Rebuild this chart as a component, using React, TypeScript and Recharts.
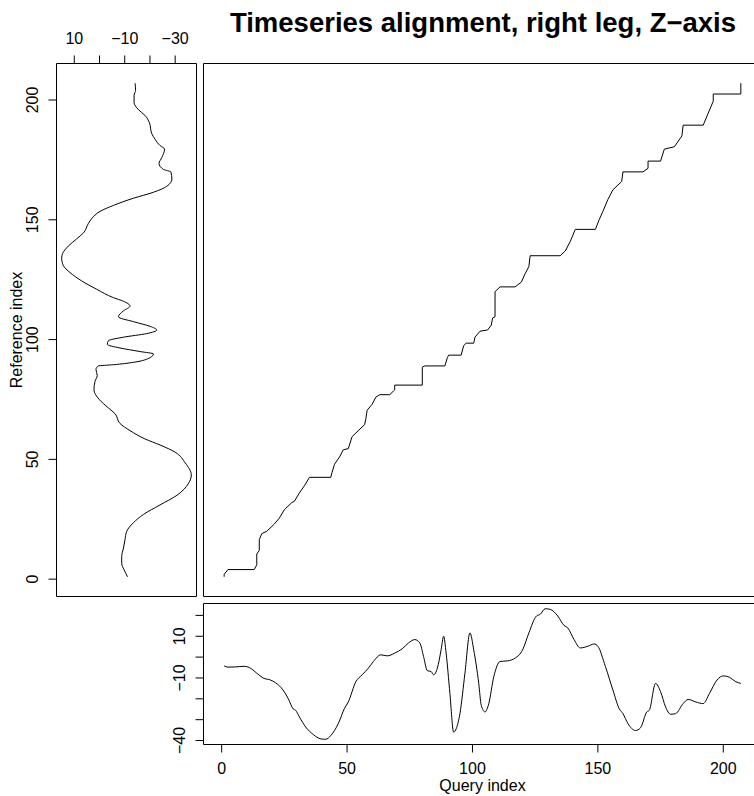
import React from "react";
import { ScatterChart, Scatter, LineChart, Line, XAxis, YAxis, ReferenceArea } from "recharts";

// reference series (left panel): index along the vertical, value along the horizontal
const refIndex = [
  207, 204, 202, 199, 196, 193.5, 190.5, 186, 183.5, 181,
  179.5, 176, 173.5, 171, 170, 167, 164, 161.5, 159, 156,
  153.5, 150.5, 148.5, 144.5, 142, 139, 136, 134, 131, 128,
  124.5, 121, 117.5, 116, 114, 112, 109.5, 107.5, 105.5, 104,
  102.5, 101, 99.5, 98, 96.5, 95, 94, 92.5, 90.5, 89.5,
  89, 87.5, 85, 82.5, 79, 75, 71.5, 69, 65, 62,
  58.5, 56, 53, 48.5, 43.5, 40, 35, 31, 27, 23.5,
  20, 16.5, 13, 9.5, 6.5, 4, 1,
];
const refValue = [
  -14.1, -14.3, -13.7, -13.7, -15.4, -18.1, -19.8, -20.7, -22.1, -24.0,
  -25.8, -24.7, -23.6, -25.4, -28.3, -28.7, -26.7, -21.4, -13.4, -5.5,
  -0.2, 3.1, 4.4, 6.4, 9.1, 12.4, 14.6, 15.0, 14.4, 11.7,
  7.1, 1.1, -5.5, -9.5, -12.1, -9.5, -7.5, -13.4, -20.1, -22.7,
  -18.7, -9.5, -3.5, -3.1, -8.1, -16.1, -21.4, -20.1, -13.4, -5.5,
  0.5, 1.4, 0.9, 1.8, 2.2, 0.1, -3.5, -6.2, -8.1, -12.1,
  -18.1, -24.0, -30.0, -34.0, -36.4, -35.3, -30.7, -24.0, -17.4, -13.4,
  -10.8, -10.1, -9.5, -8.8, -8.8, -9.7, -11.1,
];

// query series (bottom panel)
const queryIndex = [
  1, 2.5, 5.5, 9, 11, 14, 16.5, 19.5, 21.5, 24.5,
  26.5, 28.5, 29.5, 31, 33.5, 36.5, 39.5, 41.5, 43.5, 46.5,
  49, 50.5, 53.5, 56, 58.5, 60.5, 63.5, 66, 69, 72,
  74.5, 77, 79, 80.5, 82, 83.5, 84.5, 86, 87.5, 88.5,
  89.5, 91, 92.5, 93.5, 95, 97, 99, 100.5, 102.5, 103.5,
  105, 106.5, 108.5, 111, 114, 117, 120, 122.5, 125.5, 127,
  129, 131, 134, 136.5, 138, 140.5, 143, 146, 148.5, 150,
  153, 156, 158.5, 160, 162, 165, 167, 169.5, 170.5, 173,
  175, 177, 179, 181, 184, 186, 189, 192, 194.5, 197.5,
  200, 202.5, 205, 207,
];
const queryValue = [
  -4.2, -4.8, -4.7, -4.4, -5.0, -7.7, -10.0, -11.0, -12.3, -15.8,
  -19.8, -24.8, -25.5, -28.7, -33.5, -37.1, -39.2, -39.4, -37.6, -31.9,
  -24.5, -21.5, -11.8, -8.5, -5.3, -2.1, 1.1, 0.6, 1.9, 4.0,
  6.8, 8.4, 6.8, 0.3, -6.5, -6.9, -8.5, -5.3, 3.5, 10.0,
  1.9, -17.4, -36.0, -34.4, -27.1, -7.7, 11.6, 3.5, -12.6, -23.1,
  -26.3, -22.3, -9.4, -2.1, -1.8, -0.5, 3.5, 11.6, 19.7, 20.5,
  23.2, 22.9, 19.7, 15.2, 14.0, 8.4, 4.4, 5.2, 6.3, 5.2,
  -4.5, -15.8, -24.7, -27.1, -31.9, -35.2, -33.9, -26.3, -25.5, -12.6,
  -16.6, -23.9, -27.4, -27.1, -22.3, -20.3, -21.5, -22.3, -17.4, -11.0,
  -9.0, -9.7, -11.8, -12.6,
];

// warping path corners (query index, reference index)
const pathQuery = [
  1, 1, 2.5, 13, 14, 14, 15, 15, 16, 18,
  21, 23, 25, 28, 29, 31, 33, 35, 43.5, 44,
  45, 47, 48.5, 50.5, 52, 57, 57.5, 58, 60, 61.5,
  63, 67, 69, 69, 80, 80, 81, 89, 90, 90.5,
  95.5, 96.5, 97.5, 100.5, 101, 103, 106, 107.5, 108, 109,
  109, 111, 117, 119.5, 121, 122.5, 123, 135, 137, 139,
  141, 149, 150.5, 152, 154, 156, 159.5, 160, 168, 170,
  170, 175, 176.5, 180.5, 183.5, 184, 192, 194, 196, 196,
  207, 207,
];
const pathReference = [
  1, 2, 4, 4, 6, 10.5, 12, 16.5, 19, 20,
  23, 25.5, 29, 32, 32.5, 36, 39, 42.5, 42.5, 44.5,
  48, 51, 54, 54.5, 59.5, 64.5, 67, 70.5, 73, 76,
  77, 77, 79, 81, 81, 88.5, 89, 89, 92.5, 93.5,
  93.5, 97.5, 98.5, 98.5, 101, 103.5, 104, 106, 109, 109.5,
  120, 122, 122, 124, 127.5, 130.5, 135, 135, 137, 141,
  146, 146, 150, 153.5, 158.5, 162.5, 166, 170, 170, 171.5,
  174.5, 174.5, 179.5, 180.5, 185, 189.5, 189.5, 194.5, 199.5, 202.5,
  202.5, 207,
];

const indexTicks = [0, 50, 100, 150, 200];
const refValueTicks = [10, 0, -10, -20, -30];
const refValueLabels = [10, -10, -30];
const queryValueTicks = [20, 10, 0, -10, -20, -30, -40];
const queryValueLabels = [10, -10, -40];

const TITLE = "Timeseries alignment, right leg, Z\u2212axis";
const FONT = '"Liberation Sans", Arial, Helvetica, sans-serif';

const refData = refIndex.map((r, i) => ({ v: refValue[i], r })).reverse();
const queryData = queryIndex.map((q, i) => ({ q, v: queryValue[i] }));
const pathData = pathQuery.map((q, i) => ({ q, r: pathReference[i] }));

// R-style 4% padding around the data range
const pad = (arr: number[]): [number, number] => {
  const lo = Math.min(...arr);
  const hi = Math.max(...arr);
  const d = (hi - lo) * 0.04;
  return [lo - d, hi + d];
};
const idxDomain = pad([1, 207]);
const refDomain = pad(refValue);
const queryDomain = pad(queryValue);

const fmt = (v: number) => (v < 0 ? "\u2212" + Math.abs(v) : String(v));

const flatTick = (labels: number[]) => (props: any) => {
  const { x, y, payload } = props;
  if (!labels.includes(payload.value)) return <g />;
  return (
    <text x={x} y={y} textAnchor="middle" fontSize={16} fontFamily={FONT} fill="#000">
      {fmt(payload.value)}
    </text>
  );
};

const sideTick = (labels: number[]) => (props: any) => {
  const { x, y, payload } = props;
  if (!labels.includes(payload.value)) return <g />;
  return (
    <text x={x} y={y} transform={`rotate(-90, ${x}, ${y})`} textAnchor="middle" fontSize={16} fontFamily={FONT} fill="#000">
      {fmt(payload.value)}
    </text>
  );
};

const noDot = () => <g />;
const lineStyle = { stroke: "#000", strokeWidth: 1 };
const tickStroke = { stroke: "#000" };
const layer: React.CSSProperties = { position: "absolute", left: 0, top: 0 };

export default function App() {
  return (
    <div style={{ position: "absolute", left: 0, top: 0, width: 754, height: 796, overflow: "hidden", background: "#fff" }}>
      {/* left panel: reference series */}
      <div style={layer}>
        <LineChart layout="vertical" data={refData} width={754} height={796} margin={{ top: 23.5, left: 6.5, right: 557.5, bottom: 199.5 }}>
          <XAxis
            type="number" dataKey="v" orientation="top" domain={refDomain} reversed allowDataOverflow
            ticks={refValueTicks} interval={0} height={40} axisLine={false} tickSize={8} tickMargin={11.5}
            tickLine={tickStroke} tick={flatTick(refValueLabels)}
          />
          <YAxis
            type="number" dataKey="r" domain={idxDomain} reversed allowDataOverflow
            ticks={indexTicks} interval={0} width={50} axisLine={false} tickSize={8} tickMargin={10.2}
            tickLine={tickStroke} tick={sideTick(indexTicks)}
          />
          <ReferenceArea x1={refDomain[0]} x2={refDomain[1]} y1={idxDomain[0]} y2={idxDomain[1]} fill="none" stroke="#000" strokeWidth={1} ifOverflow="visible" />
          <Line dataKey="v" type="monotone" stroke="#000" strokeWidth={1} dot={false} activeDot={false} isAnimationActive={false} />
        </LineChart>
      </div>

      {/* main panel: warping path */}
      <div style={layer}>
        <ScatterChart width={770} height={796} margin={{ top: 63.5, left: 203.5, right: 8.5, bottom: 199.5 }}>
          <XAxis type="number" dataKey="q" domain={idxDomain} allowDataOverflow hide />
          <YAxis type="number" dataKey="r" domain={idxDomain} allowDataOverflow hide />
          <ReferenceArea x1={idxDomain[0]} x2={idxDomain[1]} y1={idxDomain[0]} y2={idxDomain[1]} fill="none" stroke="#000" strokeWidth={1} ifOverflow="visible" />
          <Scatter data={pathData} line={lineStyle} lineType="joint" shape={noDot} isAnimationActive={false} />
        </ScatterChart>
      </div>

      {/* bottom panel: query series */}
      <div style={layer}>
        <LineChart data={queryData} width={770} height={796} margin={{ top: 603.5, left: 153.5, right: 8.5, bottom: 1.5 }}>
          <XAxis
            type="number" dataKey="q" domain={idxDomain} allowDataOverflow
            ticks={indexTicks} interval={0} height={50} axisLine={false} tickSize={8} tickMargin={21.5}
            tickLine={tickStroke} tick={flatTick(indexTicks)}
          />
          <YAxis
            type="number" domain={queryDomain} allowDataOverflow
            ticks={queryValueTicks} interval={0} width={50} axisLine={false} tickSize={8} tickMargin={10.5}
            tickLine={tickStroke} tick={sideTick(queryValueLabels)}
          />
          <ReferenceArea x1={idxDomain[0]} x2={idxDomain[1]} y1={queryDomain[0]} y2={queryDomain[1]} fill="none" stroke="#000" strokeWidth={1} ifOverflow="visible" />
          <Line dataKey="v" type="monotone" stroke="#000" strokeWidth={1} dot={false} activeDot={false} isAnimationActive={false} />
        </LineChart>
      </div>

      {/* title and axis names */}
      <svg width={754} height={796} style={{ ...layer, pointerEvents: "none" }}>
        <text x={483} y={31.5} textAnchor="middle" fontSize={27.5} fontWeight="bold" fontFamily={FONT} fill="#000">
          {TITLE}
        </text>
        <text x={22} y={330} transform="rotate(-90, 22, 330)" textAnchor="middle" fontSize={16} fontFamily={FONT} fill="#000">
          Reference index
        </text>
        <text x={482.5} y={791} textAnchor="middle" fontSize={16} fontFamily={FONT} fill="#000">
          Query index
        </text>
      </svg>
    </div>
  );
}
